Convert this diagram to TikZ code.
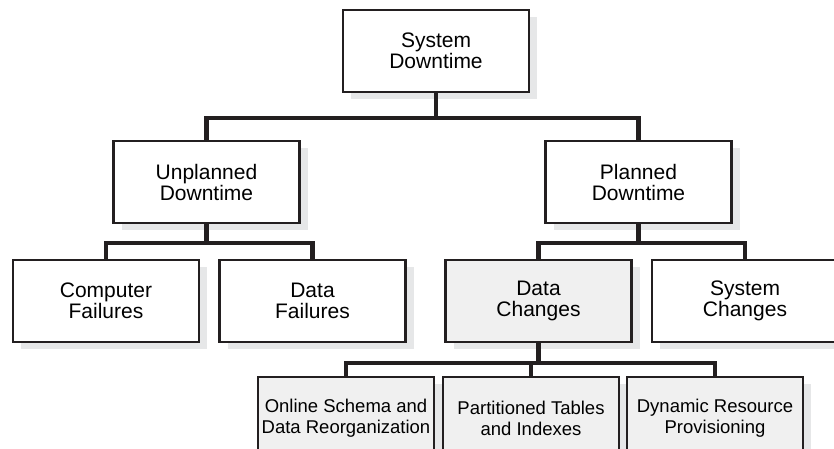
\documentclass[tikz,border=0pt]{standalone}
\usepackage{fontspec}
\setmainfont{Liberation Sans}
\usetikzlibrary{shadows}

\definecolor{boxline}{HTML}{231F20}
\definecolor{boxshade}{HTML}{E6E7E8}
\definecolor{boxgray}{HTML}{F0F0F0}

\tikzset{
  box/.style={draw=boxline, line width=2.2pt, fill=white, minimum width=186pt,
    minimum height=82pt, inner sep=0pt, align=center,
    font=\fontsize{21}{21}\selectfont,
    drop shadow={shadow xshift=8pt, shadow yshift=-7pt, fill=boxshade, opacity=1}},
  graybox/.style={box, fill=boxgray},
  smallbox/.style={graybox, minimum width=176pt, font=\fontsize{18.5}{21}\selectfont},
  link/.style={draw=boxline, line width=4.6pt}
}

\begin{document}
\begin{tikzpicture}[x=1pt, y=-1pt]

\useasboundingbox (0,0) rectangle (834,448);

\node[box] (sys) at (436, 51) {System\\Downtime};

\node[box] (unpl) at (206.5, 182) {Unplanned\\Downtime};
\node[box] (plan) at (638.5, 182) {Planned\\Downtime};

\node[box] (comp) at (106, 301) {Computer\\Failures};
\node[box] (dfail) at (312.5, 301) {Data\\Failures};
\node[graybox] (dchg) at (538.5, 301) {Data\\Changes};
\node[box] (schg) at (745, 301) {System\\Changes};

\node[smallbox] (online) at (346, 418) {Online Schema and\\Data Reorganization};
\node[smallbox] (part) at (531, 418) {Partitioned Tables\\and Indexes};
\node[smallbox] (dyn) at (715, 418) {Dynamic Resource\\Provisioning};

\draw[link] (sys.south) -- ++(0,25) coordinate (b1) -| (unpl.north);
\draw[link] (b1) -| (plan.north);

\draw[link] (unpl.south) -- ++(0,19) coordinate (b2) -| (comp.north);
\draw[link] (b2) -| (dfail.north);

\draw[link] (plan.south) -- ++(0,19) coordinate (b3) -| (dchg.north);
\draw[link] (b3) -| (schg.north);

\draw[link] (dchg.south) -- ++(0,20) coordinate (b4) -| (online.north);
\foreach \n in {part, dyn}
       \draw[link] (b4) -| (\n.north);

\end{tikzpicture}
\end{document}
